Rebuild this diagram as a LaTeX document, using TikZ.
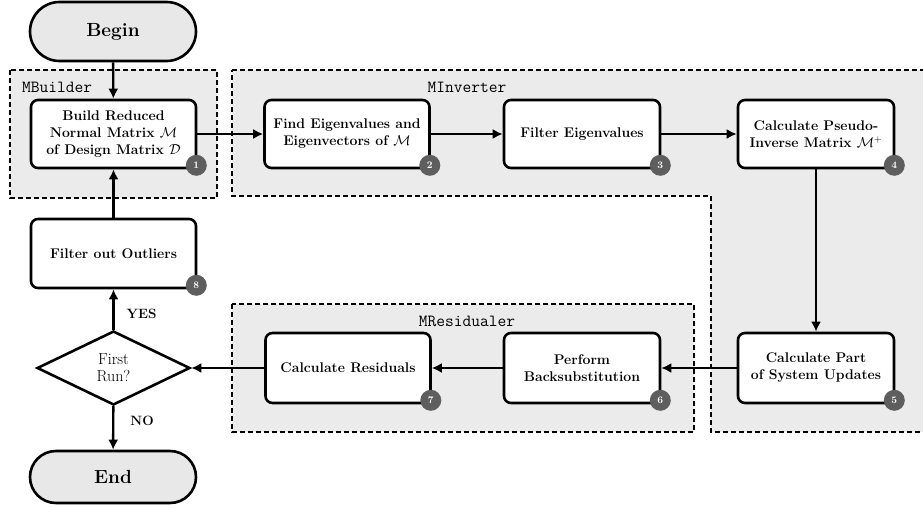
\documentclass[tikz,border=0pt]{standalone}
\usetikzlibrary{arrows.meta,shapes.geometric,shapes.misc}
\definecolor{regfill}{HTML}{EBEBEB}
\definecolor{termfill}{HTML}{E8E8E8}
\definecolor{badgefill}{HTML}{5E5E5E}
\tikzset{
  proc/.style={draw, line width=2.6pt, rounded corners=7pt, fill=white,
    minimum width=165pt, minimum height=68pt, align=center, inner sep=2pt,
    font=\fontsize{14}{17}\selectfont\bfseries},
  term/.style={draw, line width=2.6pt, rounded rectangle, fill=termfill,
    minimum width=166pt, inner sep=0pt, font=\fontsize{19}{22}\selectfont\bfseries},
  decision/.style={draw, line width=2.6pt, diamond, fill=white, inner sep=0pt,
    minimum width=153pt, minimum height=74pt, align=center,
    font=\fontsize{16}{17}\selectfont},
  region/.style={draw, line width=2.2pt, dash pattern=on 5pt off 3pt, fill=regfill},
  regionlabel/.style={font=\fontsize{17}{20}\selectfont\ttfamily, inner sep=0pt},
  badge/.style={circle, fill=badgefill, text=white, minimum size=21pt, inner sep=0pt,
    font=\fontsize{10}{11}\selectfont\bfseries},
  arr/.style={line width=2.4pt, -{Latex[length=10pt,width=10pt]}},
  lbl/.style={font=\fontsize{13.5}{16}\selectfont\bfseries, inner sep=0pt}
}
\begin{document}
\begin{tikzpicture}[x=1pt,y=-1pt]
\useasboundingbox (0,0) rectangle (923,508);
\clip (0,0) rectangle (923,508);
% regions
\draw[region] (10,70) rectangle (217,198);
\draw[region] (232,70) -- (935,70) -- (935,432) -- (711,432) -- (711,196) -- (232,196) -- cycle;
\draw[region] (232,304) rectangle (694,432);
\node[regionlabel, anchor=west] (lbuilder) at (22,87) {MBuilder};
\node[regionlabel] (linverter) at (467,87) {MInverter};
\node[regionlabel] (lresid) at (467,321) {MResidualer};
% terminals
\node[term, minimum height=59pt] (begin) at (113,31.5) {Begin};
\node[term, minimum height=52pt] (end) at (113,477) {End};
% process boxes
\node[proc] (b1) at (113.5,134) {Build Reduced\\Normal Matrix $\mathcal{M}$\\of Design Matrix $\mathcal{D}$};
\node[proc] (b2) at (347,134) {Find Eigenvalues and\\Eigenvectors of $\mathcal{M}$};
\node[proc, minimum width=156pt] (b3) at (582,134) {Filter Eigenvalues};
\node[proc, minimum width=156pt] (b4) at (816,134) {Calculate Pseudo-\\Inverse Matrix $\mathcal{M}^{+}$};
\node[proc, minimum width=156pt, minimum height=70pt] (b5) at (816,368) {Calculate Part\\of System Updates};
\node[proc, minimum width=156pt, minimum height=70pt] (b6) at (582,368) {Perform\\Backsubstitution};
\node[proc, minimum height=70pt] (b7) at (348,368) {Calculate Residuals};
\node[proc, minimum height=69pt] (b8) at (113.5,253.5) {Filter out Outliers};
\node[decision] (dec) at (113.5,368) {First\\Run?};
% badges
\node[badge] (n1) at ([xshift=-1pt,yshift=4pt]b1.south east) {1};
\node[badge] (n2) at ([xshift=-1pt,yshift=4pt]b2.south east) {2};
\node[badge] (n3) at ([xshift=-1pt,yshift=4pt]b3.south east) {3};
\node[badge] (n4) at ([xshift=-1pt,yshift=4pt]b4.south east) {4};
\node[badge] (n5) at ([xshift=-1pt,yshift=4pt]b5.south east) {5};
\node[badge] (n6) at ([xshift=-1pt,yshift=4pt]b6.south east) {6};
\node[badge] (n7) at ([xshift=-1pt,yshift=4pt]b7.south east) {7};
\node[badge] (n8) at ([xshift=-1pt,yshift=4pt]b8.south east) {8};
% connectors
\draw[arr] (begin) -- (b1);
\draw[arr] (b1) -- (b2);
\draw[arr] (b2) -- (b3);
\draw[arr] (b3) -- (b4);
\draw[arr] (b4) -- (b5);
\draw[arr] (b5) -- (b6);
\draw[arr] (b6) -- (b7);
\draw[arr] (b7) -- (dec);
\draw[arr] (dec) -- node[lbl, pos=0.4, anchor=west, xshift=12pt] (yes) {YES} (b8);
\draw[arr] (dec) -- node[lbl, pos=0.33, anchor=west, xshift=16pt] (no) {NO} (end);
\draw[arr] (b8) -- (b1);
\end{tikzpicture}
\end{document}
